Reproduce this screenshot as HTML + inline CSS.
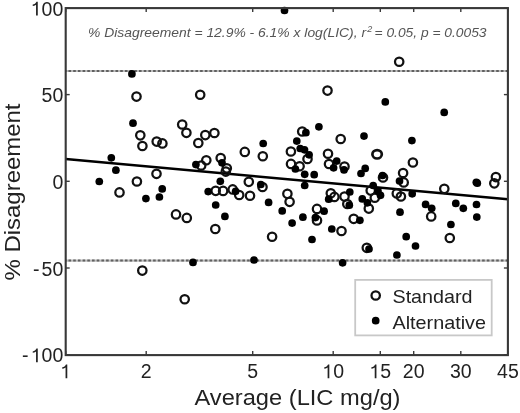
<!DOCTYPE html>
<html><head><meta charset="utf-8"><style>
html,body{margin:0;padding:0;background:#fff;width:520px;height:413px;overflow:hidden}
svg{display:block;filter:blur(0.35px);font-family:"Liberation Sans",sans-serif;fill:#222}
</style></head><body>
<svg width="520" height="413" viewBox="0 0 520 413">
<defs><clipPath id="c"><rect x="65.7" y="8.1" width="442.2" height="347.0"/></clipPath></defs>
<line x1="65.7" y1="71.0" x2="507.9" y2="71.0" stroke="#bdbdbd" stroke-width="2.2"/>
<line x1="65.7" y1="71.0" x2="507.9" y2="71.0" stroke="#606060" stroke-width="2.0" stroke-dasharray="2.6 2.1" stroke-dashoffset="1.9"/>
<line x1="65.7" y1="260.6" x2="507.9" y2="260.6" stroke="#bdbdbd" stroke-width="2.2"/>
<line x1="65.7" y1="260.6" x2="507.9" y2="260.6" stroke="#606060" stroke-width="2.0" stroke-dasharray="2.6 2.1" stroke-dashoffset="1.9"/>
<line x1="65.7" y1="159.0" x2="507.9" y2="199.3" stroke="#000" stroke-width="2.4"/>
<g>
<circle cx="136.5" cy="96.6" r="4.20" fill="none" stroke="#111" stroke-width="2.25"/>
<circle cx="140.3" cy="135.3" r="4.20" fill="none" stroke="#111" stroke-width="2.25"/>
<circle cx="142.4" cy="146.0" r="4.20" fill="none" stroke="#111" stroke-width="2.25"/>
<circle cx="156.7" cy="141.6" r="4.20" fill="none" stroke="#111" stroke-width="2.25"/>
<circle cx="162.4" cy="143.4" r="4.20" fill="none" stroke="#111" stroke-width="2.25"/>
<circle cx="182.2" cy="124.5" r="4.20" fill="none" stroke="#111" stroke-width="2.25"/>
<circle cx="186.4" cy="132.8" r="4.20" fill="none" stroke="#111" stroke-width="2.25"/>
<circle cx="198.3" cy="143.0" r="4.20" fill="none" stroke="#111" stroke-width="2.25"/>
<circle cx="205.3" cy="135.1" r="4.20" fill="none" stroke="#111" stroke-width="2.25"/>
<circle cx="214.4" cy="133.0" r="4.20" fill="none" stroke="#111" stroke-width="2.25"/>
<circle cx="201.2" cy="165.5" r="4.20" fill="none" stroke="#111" stroke-width="2.25"/>
<circle cx="206.3" cy="160.2" r="4.20" fill="none" stroke="#111" stroke-width="2.25"/>
<circle cx="220.7" cy="158.1" r="4.20" fill="none" stroke="#111" stroke-width="2.25"/>
<circle cx="226.8" cy="168.3" r="4.20" fill="none" stroke="#111" stroke-width="2.25"/>
<circle cx="225.8" cy="171.6" r="4.20" fill="none" stroke="#111" stroke-width="2.25"/>
<circle cx="156.5" cy="173.8" r="4.20" fill="none" stroke="#111" stroke-width="2.25"/>
<circle cx="136.9" cy="181.5" r="4.20" fill="none" stroke="#111" stroke-width="2.25"/>
<circle cx="119.5" cy="192.4" r="4.20" fill="none" stroke="#111" stroke-width="2.25"/>
<circle cx="176.0" cy="214.4" r="4.20" fill="none" stroke="#111" stroke-width="2.25"/>
<circle cx="186.8" cy="217.9" r="4.20" fill="none" stroke="#111" stroke-width="2.25"/>
<circle cx="215.7" cy="190.8" r="4.20" fill="none" stroke="#111" stroke-width="2.25"/>
<circle cx="215.3" cy="229.0" r="4.20" fill="none" stroke="#111" stroke-width="2.25"/>
<circle cx="142.3" cy="270.6" r="4.20" fill="none" stroke="#111" stroke-width="2.25"/>
<circle cx="184.7" cy="299.3" r="4.20" fill="none" stroke="#111" stroke-width="2.25"/>
<circle cx="200.2" cy="94.7" r="4.20" fill="none" stroke="#111" stroke-width="2.25"/>
<circle cx="223.1" cy="190.9" r="4.20" fill="none" stroke="#111" stroke-width="2.25"/>
<circle cx="232.7" cy="189.4" r="4.20" fill="none" stroke="#111" stroke-width="2.25"/>
<circle cx="239.2" cy="195.0" r="4.20" fill="none" stroke="#111" stroke-width="2.25"/>
<circle cx="248.8" cy="181.8" r="4.20" fill="none" stroke="#111" stroke-width="2.25"/>
<circle cx="250.0" cy="195.7" r="4.20" fill="none" stroke="#111" stroke-width="2.25"/>
<circle cx="262.5" cy="187.0" r="4.20" fill="none" stroke="#111" stroke-width="2.25"/>
<circle cx="287.4" cy="193.8" r="4.20" fill="none" stroke="#111" stroke-width="2.25"/>
<circle cx="289.6" cy="201.8" r="4.20" fill="none" stroke="#111" stroke-width="2.25"/>
<circle cx="272.1" cy="236.7" r="4.20" fill="none" stroke="#111" stroke-width="2.25"/>
<circle cx="244.8" cy="151.9" r="4.20" fill="none" stroke="#111" stroke-width="2.25"/>
<circle cx="262.8" cy="156.2" r="4.20" fill="none" stroke="#111" stroke-width="2.25"/>
<circle cx="290.9" cy="151.5" r="4.20" fill="none" stroke="#111" stroke-width="2.25"/>
<circle cx="291.0" cy="163.9" r="4.20" fill="none" stroke="#111" stroke-width="2.25"/>
<circle cx="327.5" cy="90.6" r="4.20" fill="none" stroke="#111" stroke-width="2.25"/>
<circle cx="302.2" cy="131.5" r="4.20" fill="none" stroke="#111" stroke-width="2.25"/>
<circle cx="307.5" cy="159.0" r="4.20" fill="none" stroke="#111" stroke-width="2.25"/>
<circle cx="340.7" cy="139.0" r="4.20" fill="none" stroke="#111" stroke-width="2.25"/>
<circle cx="328.0" cy="153.7" r="4.20" fill="none" stroke="#111" stroke-width="2.25"/>
<circle cx="329.0" cy="164.0" r="4.20" fill="none" stroke="#111" stroke-width="2.25"/>
<circle cx="344.5" cy="166.6" r="4.20" fill="none" stroke="#111" stroke-width="2.25"/>
<circle cx="299.6" cy="166.2" r="4.20" fill="none" stroke="#111" stroke-width="2.25"/>
<circle cx="330.8" cy="193.2" r="4.20" fill="none" stroke="#111" stroke-width="2.25"/>
<circle cx="334.4" cy="196.9" r="4.20" fill="none" stroke="#111" stroke-width="2.25"/>
<circle cx="344.5" cy="196.6" r="4.20" fill="none" stroke="#111" stroke-width="2.25"/>
<circle cx="347.3" cy="204.0" r="4.20" fill="none" stroke="#111" stroke-width="2.25"/>
<circle cx="317.0" cy="208.9" r="4.20" fill="none" stroke="#111" stroke-width="2.25"/>
<circle cx="317.0" cy="220.4" r="4.20" fill="none" stroke="#111" stroke-width="2.25"/>
<circle cx="353.7" cy="218.8" r="4.20" fill="none" stroke="#111" stroke-width="2.25"/>
<circle cx="341.5" cy="231.0" r="4.20" fill="none" stroke="#111" stroke-width="2.25"/>
<circle cx="366.8" cy="247.8" r="4.20" fill="none" stroke="#111" stroke-width="2.25"/>
<circle cx="399.2" cy="61.7" r="4.20" fill="none" stroke="#111" stroke-width="2.25"/>
<circle cx="412.9" cy="162.5" r="4.20" fill="none" stroke="#111" stroke-width="2.25"/>
<circle cx="383.0" cy="177.5" r="4.20" fill="none" stroke="#111" stroke-width="2.25"/>
<circle cx="403.1" cy="173.0" r="4.20" fill="none" stroke="#111" stroke-width="2.25"/>
<circle cx="403.7" cy="182.4" r="4.20" fill="none" stroke="#111" stroke-width="2.25"/>
<circle cx="396.8" cy="193.4" r="4.20" fill="none" stroke="#111" stroke-width="2.25"/>
<circle cx="400.9" cy="196.5" r="4.20" fill="none" stroke="#111" stroke-width="2.25"/>
<circle cx="370.7" cy="190.6" r="4.20" fill="none" stroke="#111" stroke-width="2.25"/>
<circle cx="374.8" cy="197.7" r="4.20" fill="none" stroke="#111" stroke-width="2.25"/>
<circle cx="368.8" cy="208.6" r="4.20" fill="none" stroke="#111" stroke-width="2.25"/>
<circle cx="431.2" cy="216.4" r="4.20" fill="none" stroke="#111" stroke-width="2.25"/>
<circle cx="444.3" cy="188.8" r="4.20" fill="none" stroke="#111" stroke-width="2.25"/>
<circle cx="495.9" cy="177.1" r="4.20" fill="none" stroke="#111" stroke-width="2.25"/>
<circle cx="494.3" cy="183.3" r="4.20" fill="none" stroke="#111" stroke-width="2.25"/>
<circle cx="449.8" cy="238.0" r="4.20" fill="none" stroke="#111" stroke-width="2.25"/>
<circle cx="284.5" cy="10.5" r="3.85" fill="#000"/>
<circle cx="131.9" cy="73.9" r="3.85" fill="#000"/>
<circle cx="133.0" cy="123.2" r="3.85" fill="#000"/>
<circle cx="111.3" cy="157.8" r="3.85" fill="#000"/>
<circle cx="115.9" cy="170.2" r="3.85" fill="#000"/>
<circle cx="99.3" cy="181.5" r="3.85" fill="#000"/>
<circle cx="145.9" cy="198.6" r="3.85" fill="#000"/>
<circle cx="162.2" cy="188.9" r="3.85" fill="#000"/>
<circle cx="159.4" cy="197.0" r="3.85" fill="#000"/>
<circle cx="195.9" cy="164.6" r="3.85" fill="#000"/>
<circle cx="222.0" cy="162.8" r="3.85" fill="#000"/>
<circle cx="220.3" cy="181.3" r="3.85" fill="#000"/>
<circle cx="208.2" cy="191.6" r="3.85" fill="#000"/>
<circle cx="215.7" cy="205.0" r="3.85" fill="#000"/>
<circle cx="224.9" cy="216.4" r="3.85" fill="#000"/>
<circle cx="193.0" cy="262.4" r="3.85" fill="#000"/>
<circle cx="235.6" cy="191.3" r="3.85" fill="#000"/>
<circle cx="260.8" cy="184.5" r="3.85" fill="#000"/>
<circle cx="268.6" cy="202.4" r="3.85" fill="#000"/>
<circle cx="282.2" cy="210.9" r="3.85" fill="#000"/>
<circle cx="292.1" cy="223.1" r="3.85" fill="#000"/>
<circle cx="254.0" cy="260.0" r="3.85" fill="#000"/>
<circle cx="263.2" cy="143.5" r="3.85" fill="#000"/>
<circle cx="296.8" cy="141.1" r="3.85" fill="#000"/>
<circle cx="305.9" cy="132.7" r="3.85" fill="#000"/>
<circle cx="318.9" cy="126.8" r="3.85" fill="#000"/>
<circle cx="300.2" cy="148.5" r="3.85" fill="#000"/>
<circle cx="304.5" cy="149.8" r="3.85" fill="#000"/>
<circle cx="309.1" cy="154.8" r="3.85" fill="#000"/>
<circle cx="295.4" cy="169.0" r="3.85" fill="#000"/>
<circle cx="304.7" cy="174.3" r="3.85" fill="#000"/>
<circle cx="314.2" cy="174.7" r="3.85" fill="#000"/>
<circle cx="304.7" cy="185.5" r="3.85" fill="#000"/>
<circle cx="336.7" cy="161.1" r="3.85" fill="#000"/>
<circle cx="333.6" cy="167.8" r="3.85" fill="#000"/>
<circle cx="344.0" cy="169.9" r="3.85" fill="#000"/>
<circle cx="365.2" cy="168.4" r="3.85" fill="#000"/>
<circle cx="361.0" cy="173.5" r="3.85" fill="#000"/>
<circle cx="364.0" cy="136.1" r="3.85" fill="#000"/>
<circle cx="328.7" cy="199.2" r="3.85" fill="#000"/>
<circle cx="349.8" cy="192.0" r="3.85" fill="#000"/>
<circle cx="349.3" cy="205.2" r="3.85" fill="#000"/>
<circle cx="362.3" cy="198.9" r="3.85" fill="#000"/>
<circle cx="367.4" cy="202.8" r="3.85" fill="#000"/>
<circle cx="302.9" cy="217.2" r="3.85" fill="#000"/>
<circle cx="315.4" cy="217.6" r="3.85" fill="#000"/>
<circle cx="324.1" cy="211.2" r="3.85" fill="#000"/>
<circle cx="359.9" cy="220.3" r="3.85" fill="#000"/>
<circle cx="331.8" cy="229.0" r="3.85" fill="#000"/>
<circle cx="312.0" cy="239.5" r="3.85" fill="#000"/>
<circle cx="342.6" cy="262.8" r="3.85" fill="#000"/>
<circle cx="385.3" cy="101.9" r="3.85" fill="#000"/>
<circle cx="411.9" cy="140.6" r="3.85" fill="#000"/>
<circle cx="382.5" cy="175.5" r="3.85" fill="#000"/>
<circle cx="399.5" cy="181.0" r="3.85" fill="#000"/>
<circle cx="412.2" cy="193.8" r="3.85" fill="#000"/>
<circle cx="373.2" cy="185.5" r="3.85" fill="#000"/>
<circle cx="378.0" cy="191.0" r="3.85" fill="#000"/>
<circle cx="380.5" cy="195.3" r="3.85" fill="#000"/>
<circle cx="400.0" cy="212.2" r="3.85" fill="#000"/>
<circle cx="425.6" cy="204.4" r="3.85" fill="#000"/>
<circle cx="431.7" cy="208.3" r="3.85" fill="#000"/>
<circle cx="369.0" cy="249.0" r="3.85" fill="#000"/>
<circle cx="406.2" cy="236.7" r="3.85" fill="#000"/>
<circle cx="415.5" cy="246.0" r="3.85" fill="#000"/>
<circle cx="396.9" cy="255.0" r="3.85" fill="#000"/>
<circle cx="444.2" cy="112.4" r="3.85" fill="#000"/>
<circle cx="476.3" cy="182.3" r="3.85" fill="#000"/>
<circle cx="477.3" cy="183.2" r="3.85" fill="#000"/>
<circle cx="455.8" cy="203.4" r="3.85" fill="#000"/>
<circle cx="463.3" cy="208.3" r="3.85" fill="#000"/>
<circle cx="476.5" cy="204.5" r="3.85" fill="#000"/>
<circle cx="476.8" cy="217.1" r="3.85" fill="#000"/>
<circle cx="450.9" cy="224.5" r="3.85" fill="#000"/>
<ellipse cx="377.1" cy="154.3" rx="4.7" ry="4.2" fill="none" stroke="#111" stroke-width="2.7"/>
</g>
<rect x="65.7" y="8.1" width="442.2" height="347.0" fill="none" stroke="#383838" stroke-width="2.1"/>
<line x1="65.7" y1="355.1" x2="65.7" y2="351.1" stroke="#3a3a3a" stroke-width="1.4"/>
<line x1="65.7" y1="8.1" x2="65.7" y2="12.1" stroke="#3a3a3a" stroke-width="1.4"/>
<line x1="146.2" y1="355.1" x2="146.2" y2="351.1" stroke="#3a3a3a" stroke-width="1.4"/>
<line x1="146.2" y1="8.1" x2="146.2" y2="12.1" stroke="#3a3a3a" stroke-width="1.4"/>
<line x1="252.7" y1="355.1" x2="252.7" y2="351.1" stroke="#3a3a3a" stroke-width="1.4"/>
<line x1="252.7" y1="8.1" x2="252.7" y2="12.1" stroke="#3a3a3a" stroke-width="1.4"/>
<line x1="333.2" y1="355.1" x2="333.2" y2="351.1" stroke="#3a3a3a" stroke-width="1.4"/>
<line x1="333.2" y1="8.1" x2="333.2" y2="12.1" stroke="#3a3a3a" stroke-width="1.4"/>
<line x1="380.3" y1="355.1" x2="380.3" y2="351.1" stroke="#3a3a3a" stroke-width="1.4"/>
<line x1="380.3" y1="8.1" x2="380.3" y2="12.1" stroke="#3a3a3a" stroke-width="1.4"/>
<line x1="413.7" y1="355.1" x2="413.7" y2="351.1" stroke="#3a3a3a" stroke-width="1.4"/>
<line x1="413.7" y1="8.1" x2="413.7" y2="12.1" stroke="#3a3a3a" stroke-width="1.4"/>
<line x1="460.8" y1="355.1" x2="460.8" y2="351.1" stroke="#3a3a3a" stroke-width="1.4"/>
<line x1="460.8" y1="8.1" x2="460.8" y2="12.1" stroke="#3a3a3a" stroke-width="1.4"/>
<line x1="507.9" y1="355.1" x2="507.9" y2="351.1" stroke="#3a3a3a" stroke-width="1.4"/>
<line x1="507.9" y1="8.1" x2="507.9" y2="12.1" stroke="#3a3a3a" stroke-width="1.4"/>
<line x1="65.7" y1="7.9" x2="69.7" y2="7.9" stroke="#3a3a3a" stroke-width="1.4"/>
<line x1="507.9" y1="7.9" x2="503.9" y2="7.9" stroke="#3a3a3a" stroke-width="1.4"/>
<line x1="65.7" y1="94.6" x2="69.7" y2="94.6" stroke="#3a3a3a" stroke-width="1.4"/>
<line x1="507.9" y1="94.6" x2="503.9" y2="94.6" stroke="#3a3a3a" stroke-width="1.4"/>
<line x1="65.7" y1="181.3" x2="69.7" y2="181.3" stroke="#3a3a3a" stroke-width="1.4"/>
<line x1="507.9" y1="181.3" x2="503.9" y2="181.3" stroke="#3a3a3a" stroke-width="1.4"/>
<line x1="65.7" y1="268.0" x2="69.7" y2="268.0" stroke="#3a3a3a" stroke-width="1.4"/>
<line x1="507.9" y1="268.0" x2="503.9" y2="268.0" stroke="#3a3a3a" stroke-width="1.4"/>
<line x1="65.7" y1="354.7" x2="69.7" y2="354.7" stroke="#3a3a3a" stroke-width="1.4"/>
<line x1="507.9" y1="354.7" x2="503.9" y2="354.7" stroke="#3a3a3a" stroke-width="1.4"/>
<text x="30.77" y="15.5" font-size="19.5"> 00</text>
<polygon points="37.77,15.50 37.77,1.79 36.46,1.79 35.87,2.73 34.96,3.70 33.89,4.29 32.73,4.58 32.73,5.95 34.18,5.75 35.25,5.32 36.05,4.68 36.05,15.50" fill="#222"/>
<text x="41.61" y="102.2" font-size="19.5">50</text>
<text x="52.46" y="188.9" font-size="19.5">0</text>
<text x="32.92" y="275.6" font-size="19.5">-<tspan dx="2.2">50</tspan></text>
<text x="22.07" y="362.3" font-size="19.5">-<tspan dx="2.2"> 00</tspan></text>
<polygon points="37.77,362.30 37.77,348.59 36.46,348.59 35.87,349.53 34.96,350.50 33.89,351.09 32.73,351.38 32.73,352.75 34.18,352.55 35.25,352.12 36.05,351.48 36.05,362.30" fill="#222"/>
<text x="60.28" y="378.2" font-size="19.5"> </text>
<polygon points="67.28,378.20 67.28,364.49 65.97,364.49 65.39,365.43 64.47,366.40 63.40,366.99 62.25,367.28 62.25,368.64 63.69,368.45 64.76,368.02 65.56,367.38 65.56,378.20" fill="#222"/>
<text x="140.80" y="378.2" font-size="19.5">2</text>
<text x="247.24" y="378.2" font-size="19.5">5</text>
<text x="322.33" y="378.2" font-size="19.5"> 0</text>
<polygon points="329.33,378.20 329.33,364.49 328.03,364.49 327.44,365.43 326.53,366.40 325.45,366.99 324.30,367.28 324.30,368.64 325.75,368.45 326.82,368.02 327.62,367.38 327.62,378.20" fill="#222"/>
<text x="369.44" y="378.2" font-size="19.5"> 5</text>
<polygon points="376.44,378.20 376.44,364.49 375.13,364.49 374.54,365.43 373.63,366.40 372.56,366.99 371.40,367.28 371.40,368.64 372.85,368.45 373.92,368.02 374.72,367.38 374.72,378.20" fill="#222"/>
<text x="402.85" y="378.2" font-size="19.5">20</text>
<text x="449.95" y="378.2" font-size="19.5">30</text>
<text x="497.06" y="378.2" font-size="19.5">45</text>
<text x="194.5" y="404.6" font-size="22.0" textLength="206.0" lengthAdjust="spacingAndGlyphs">Average (LIC mg/g)</text>
<text transform="translate(20.0,280.5) rotate(-90)" x="0" y="0" font-size="22.0" textLength="177.0" lengthAdjust="spacingAndGlyphs">% Disagreement</text>
<text x="88.0" y="37.2" font-size="12.9" font-style="italic" fill="#555" textLength="278.0" lengthAdjust="spacingAndGlyphs">% Disagreement = 12.9% - 6.1% x log(LIC), r</text>
<text x="367.3" y="32.0" font-size="9.0" font-style="italic" fill="#555">2</text>
<text x="374.5" y="37.2" font-size="12.9" font-style="italic" fill="#555" textLength="112.0" lengthAdjust="spacingAndGlyphs">= 0.05, p = 0.0053</text>
<rect x="355.2" y="279.9" width="136.5" height="55.5" fill="#fff" stroke="#c8c8c8" stroke-width="1.8"/>
<circle cx="375.7" cy="295.5" r="4.20" fill="none" stroke="#111" stroke-width="2.25"/>
<circle cx="375.7" cy="320.7" r="3.85" fill="#000"/>
<text x="392.5" y="302.7" font-size="18.5" textLength="80.0" lengthAdjust="spacingAndGlyphs">Standard</text>
<text x="392.5" y="328.9" font-size="18.5" textLength="93.5" lengthAdjust="spacingAndGlyphs">Alternative</text>
</svg>
</body></html>
